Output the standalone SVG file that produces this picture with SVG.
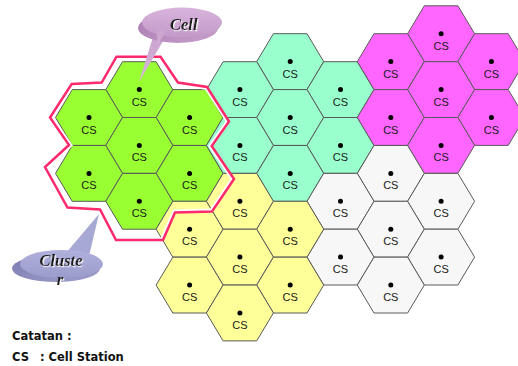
<svg xmlns="http://www.w3.org/2000/svg" xmlns:xlink="http://www.w3.org/1999/xlink" width="518" height="366" viewBox="0 0 518 366">
<style>
.hx{stroke:#5a5a5a;stroke-width:1;stroke-linejoin:round}
.g{fill:#99FF33}.c{fill:#99FFCC}.m{fill:#FF66FF}.w{fill:#F7F7F7}.y{fill:#FFFF99}
.dot{fill:#000}
.cs{font-family:"Liberation Sans",Arial,sans-serif;font-size:11px;fill:#1a1a1a;text-anchor:middle}
.note{font-family:"DejaVu Sans",Verdana,sans-serif;font-size:11.5px;font-weight:bold;fill:#111}
.call{font-family:"Liberation Serif","Times New Roman",serif;font-size:16.5px;font-weight:bold;font-style:italic;fill:#1a1a1a}
</style>
<defs>
<path id="hex" d="M-33.5 0 L-16.8 -27.9 L16.8 -27.9 L33.5 0 L16.8 27.9 L-16.8 27.9 Z"/>
<clipPath id="inside"><polygon points="116.5,56.7 160.5,56.7 178,82.5 207,87 229,121.5 211.7,146 234,179 212,211.5 175,212.5 163,240 116,240 100,209.5 67.5,207.5 45,167 69,145 50,117.5 71.7,84 101.7,82.5"/></clipPath>
<linearGradient id="cellTop" x1="0" y1="0" x2="0" y2="1"><stop offset="0" stop-color="#D8B4DC"/><stop offset="1" stop-color="#C29AC8"/></linearGradient>
<linearGradient id="cellRim" x1="0" y1="0" x2="1" y2="1"><stop offset="0" stop-color="#A878B0"/><stop offset="1" stop-color="#C8A0CC"/></linearGradient>
<linearGradient id="cellPtr" x1="0" y1="0" x2="0" y2="1"><stop offset="0" stop-color="#C8A0CC"/><stop offset="1" stop-color="#D8B8DC"/></linearGradient>
<linearGradient id="clTop" x1="0" y1="0" x2="0" y2="1"><stop offset="0" stop-color="#B0B0DC"/><stop offset="1" stop-color="#9C9CCC"/></linearGradient>
<linearGradient id="clRim" x1="0" y1="0" x2="1" y2="1"><stop offset="0" stop-color="#7A7AB0"/><stop offset="1" stop-color="#A0A0CC"/></linearGradient>
<filter id="sh" x="-20%" y="-20%" width="140%" height="140%"><feDropShadow dx="1.2" dy="1.2" stdDeviation="0.4" flood-color="#ffffff" flood-opacity="0.9"/></filter>
</defs>

<g id="cluster-green">
<g id="g1" transform="translate(139.3,89.6)"><use xlink:href="#hex" class="hx g"/><circle class="dot" r="2.5"/><text class="cs" y="16">CS</text></g>
<g id="g2" transform="translate(89,117.5)"><use xlink:href="#hex" class="hx g"/><circle class="dot" r="2.5"/><text class="cs" y="16">CS</text></g>
<g id="g3" transform="translate(189.6,117.5)"><use xlink:href="#hex" class="hx g"/><circle class="dot" r="2.5"/><text class="cs" y="16">CS</text></g>
<g id="g4" transform="translate(139.3,145.4)"><use xlink:href="#hex" class="hx g"/><circle class="dot" r="2.5"/><text class="cs" y="16">CS</text></g>
<g id="g5" transform="translate(89,173.4)"><use xlink:href="#hex" class="hx g"/><circle class="dot" r="2.5"/><text class="cs" y="16">CS</text></g>
<g id="g6" transform="translate(189.6,173.4)"><use xlink:href="#hex" class="hx g"/><circle class="dot" r="2.5"/><text class="cs" y="16">CS</text></g>
<g id="g7" transform="translate(139.3,201.3)"><use xlink:href="#hex" class="hx g"/><circle class="dot" r="2.5"/><text class="cs" y="16">CS</text></g>
</g>

<g id="cluster-cyan">
<g id="c1" transform="translate(290.2,61.6)"><use xlink:href="#hex" class="hx c"/><circle class="dot" r="2.5"/><text class="cs" y="16">CS</text></g>
<g id="c2" transform="translate(239.9,89.6)"><use xlink:href="#hex" class="hx c"/><circle class="dot" r="2.5"/><text class="cs" y="16">CS</text></g>
<g id="c3" transform="translate(340.5,89.6)"><use xlink:href="#hex" class="hx c"/><circle class="dot" r="2.5"/><text class="cs" y="16">CS</text></g>
<g id="c4" transform="translate(290.2,117.5)"><use xlink:href="#hex" class="hx c"/><circle class="dot" r="2.5"/><text class="cs" y="16">CS</text></g>
<g id="c5" transform="translate(239.9,145.4)"><use xlink:href="#hex" class="hx c"/><circle class="dot" r="2.5"/><text class="cs" y="16">CS</text></g>
<g id="c6" transform="translate(340.5,145.4)"><use xlink:href="#hex" class="hx c"/><circle class="dot" r="2.5"/><text class="cs" y="16">CS</text></g>
<g id="c7" transform="translate(290.2,173.4)"><use xlink:href="#hex" class="hx c"/><circle class="dot" r="2.5"/><text class="cs" y="16">CS</text></g>
</g>

<g id="cluster-magenta">
<g id="m1" transform="translate(441.1,33.7)"><use xlink:href="#hex" class="hx m"/><circle class="dot" r="2.5"/><text class="cs" y="16">CS</text></g>
<g id="m2" transform="translate(390.8,61.6)"><use xlink:href="#hex" class="hx m"/><circle class="dot" r="2.5"/><text class="cs" y="16">CS</text></g>
<g id="m3" transform="translate(491.4,61.6)"><use xlink:href="#hex" class="hx m"/><circle class="dot" r="2.5"/><text class="cs" y="16">CS</text></g>
<g id="m4" transform="translate(441.1,89.6)"><use xlink:href="#hex" class="hx m"/><circle class="dot" r="2.5"/><text class="cs" y="16">CS</text></g>
<g id="m5" transform="translate(390.8,117.5)"><use xlink:href="#hex" class="hx m"/><circle class="dot" r="2.5"/><text class="cs" y="16">CS</text></g>
<g id="m6" transform="translate(491.4,117.5)"><use xlink:href="#hex" class="hx m"/><circle class="dot" r="2.5"/><text class="cs" y="16">CS</text></g>
<g id="m7" transform="translate(441.1,145.4)"><use xlink:href="#hex" class="hx m"/><circle class="dot" r="2.5"/><text class="cs" y="16">CS</text></g>
</g>

<g id="cluster-gray">
<g id="w1" transform="translate(390.8,173.4)"><use xlink:href="#hex" class="hx w"/><circle class="dot" r="2.5"/><text class="cs" y="16">CS</text></g>
<g id="w2" transform="translate(340.5,201.3)"><use xlink:href="#hex" class="hx w"/><circle class="dot" r="2.5"/><text class="cs" y="16">CS</text></g>
<g id="w3" transform="translate(441.1,201.3)"><use xlink:href="#hex" class="hx w"/><circle class="dot" r="2.5"/><text class="cs" y="16">CS</text></g>
<g id="w4" transform="translate(390.8,229.2)"><use xlink:href="#hex" class="hx w"/><circle class="dot" r="2.5"/><text class="cs" y="16">CS</text></g>
<g id="w5" transform="translate(340.5,257.1)"><use xlink:href="#hex" class="hx w"/><circle class="dot" r="2.5"/><text class="cs" y="16">CS</text></g>
<g id="w6" transform="translate(441.1,257.1)"><use xlink:href="#hex" class="hx w"/><circle class="dot" r="2.5"/><text class="cs" y="16">CS</text></g>
<g id="w7" transform="translate(390.8,285.1)"><use xlink:href="#hex" class="hx w"/><circle class="dot" r="2.5"/><text class="cs" y="16">CS</text></g>
</g>

<g id="cluster-yellow">
<g id="y1" transform="translate(239.9,201.3)"><use xlink:href="#hex" class="hx y"/><circle class="dot" r="2.5"/><text class="cs" y="16">CS</text></g>
<g id="y2" transform="translate(189.6,229.2)"><use xlink:href="#hex" class="hx y"/><circle class="dot" r="2.5"/><text class="cs" y="16">CS</text></g>
<g id="y3" transform="translate(290.2,229.2)"><use xlink:href="#hex" class="hx y"/><circle class="dot" r="2.5"/><text class="cs" y="16">CS</text></g>
<g id="y4" transform="translate(239.9,257.1)"><use xlink:href="#hex" class="hx y"/><circle class="dot" r="2.5"/><text class="cs" y="16">CS</text></g>
<g id="y5" transform="translate(189.6,285.1)"><use xlink:href="#hex" class="hx y"/><circle class="dot" r="2.5"/><text class="cs" y="16">CS</text></g>
<g id="y6" transform="translate(290.2,285.1)"><use xlink:href="#hex" class="hx y"/><circle class="dot" r="2.5"/><text class="cs" y="16">CS</text></g>
<g id="y7" transform="translate(239.9,313)"><use xlink:href="#hex" class="hx y"/><circle class="dot" r="2.5"/><text class="cs" y="16">CS</text></g>
</g>

<g id="connectors">
<g id="cluster-outline" fill="none" stroke-linejoin="miter">
<polygon clip-path="url(#inside)" stroke="#FFFFFF" stroke-width="6" points="116.5,56.7 160.5,56.7 178,82.5 207,87 229,121.5 211.7,146 234,179 212,211.5 175,212.5 163,240 116,240 100,209.5 67.5,207.5 45,167 69,145 50,117.5 71.7,84 101.7,82.5"/>
<polygon stroke="#FF2A6D" stroke-width="2.5" points="116.5,56.7 160.5,56.7 178,82.5 207,87 229,121.5 211.7,146 234,179 212,211.5 175,212.5 163,240 116,240 100,209.5 67.5,207.5 45,167 69,145 50,117.5 71.7,84 101.7,82.5"/>
</g>
</g>

<g id="callout-cell">
<polygon points="154,34 169,31 139,82" fill="url(#cellPtr)"/>
<ellipse cx="178" cy="28" rx="40" ry="15" fill="url(#cellRim)"/>
<ellipse cx="182" cy="22.5" rx="40" ry="15" fill="url(#cellTop)"/>
<polygon points="156,30 168,28 158,44" fill="url(#cellPtr)" opacity="0.8"/>
<text class="call" x="170" y="30" filter="url(#sh)">Cell</text>
</g>

<g id="callout-cluster">
<polygon points="66,253 89,256 99,214" fill="#A8A8D4"/>
<ellipse cx="56" cy="268.5" rx="44" ry="13.5" fill="url(#clRim)"/>
<ellipse cx="61.5" cy="264" rx="41.5" ry="14" fill="url(#clTop)"/>
<text class="call" x="61" y="266" text-anchor="middle" filter="url(#sh)"><tspan x="61" y="266">Cluste</tspan><tspan x="60" y="285">r</tspan></text>
</g>

<g id="legend">
<text class="note" x="12" y="340">Catatan :</text>
<text class="note" y="361"><tspan x="12">CS</tspan><tspan x="40">: Cell Station</tspan></text>
</g>
</svg>
